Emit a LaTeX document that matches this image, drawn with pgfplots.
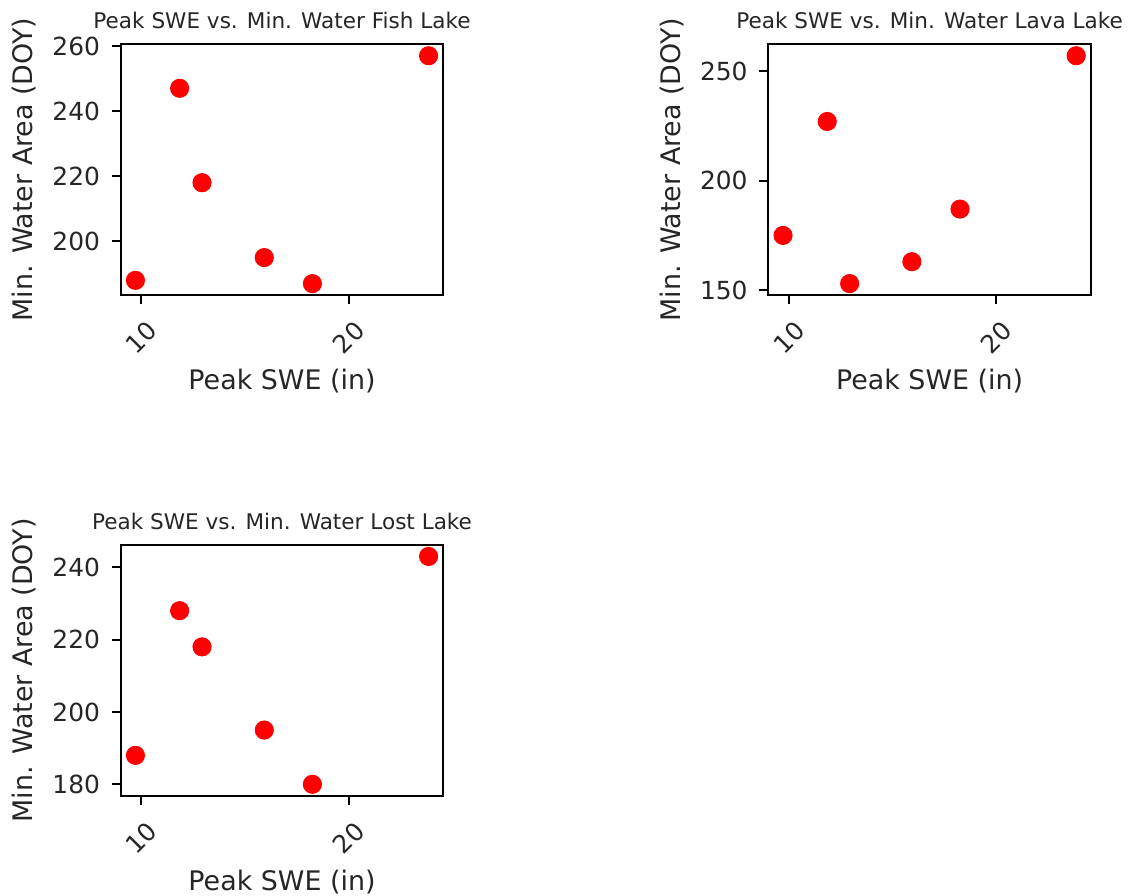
\documentclass[border=0pt]{standalone}
\usepackage{fontspec}
\setmainfont{DejaVu Sans}
\usepackage{pgfplots}
\pgfplotsset{compat=1.18}
\pgfplotsset{
  lake/.style={
    scale only axis, width=145.17pt, height=112.8pt, anchor=south west,
    xmin=9.01, xmax=24.56, xtick={10,20},
    axis line style={line width=0.8pt, black},
    tick align=outside, major tick length=4pt,
    tick style={line width=0.8pt, black},
    xtick pos=left, ytick pos=left,
    /pgf/number format/assume math mode=true,
    tick label style={font=\fontsize{11.2}{13}\selectfont, text=black!85},
    xticklabel style={yshift=-15.1pt, rotate=45, anchor=center},
    yticklabel style={xshift=-1.8pt},
    every axis y label/.style={at={(axis description cs:-0.2998,0.5)}, rotate=90, anchor=center, font=\fontsize{12.1}{14}\selectfont, text=black!85},
    every axis x label/.style={at={(axis description cs:0.5,-0.343)}, anchor=center, font=\fontsize{12.1}{14}\selectfont, text=black!85},
    title style={font=\fontsize{9.7}{11}\selectfont, text=black!85, at={(axis description cs:0.5,1.041)}, anchor=center},
    xlabel={Peak SWE (in)}, ylabel={Min. Water Area (DOY)},
  },
  dots/.style={only marks, mark=*, mark size=4.1pt, color=red, mark options={fill=red, draw=none}},
}
\begin{document}
\begin{tikzpicture}
\useasboundingbox (0pt,0pt) rectangle (508.5pt,402.75pt);
% Fish Lake
\begin{axis}[lake, at={(54.32pt,270pt)}, ymin=183.5, ymax=260.5, ytick={200,220,240,260},
  title={Peak SWE vs. Min. Water Fish Lake}]
\addplot[dots] coordinates {(9.72,188) (11.85,247) (12.93,218) (15.93,195) (18.25,187) (23.85,257)};
\end{axis}
% Lava Lake
\begin{axis}[lake, at={(345.74pt,270pt)}, ymin=147.8, ymax=262.2, ytick={150,200,250},
  title={Peak SWE vs. Min. Water Lava Lake}]
\addplot[dots] coordinates {(9.72,175) (11.85,227) (12.93,153) (15.93,163) (18.25,187) (23.85,257)};
\end{axis}
% Lost Lake
\begin{axis}[lake, at={(54.32pt,44.69pt)}, ymin=176.85, ymax=246.15, ytick={180,200,220,240},
  title={Peak SWE vs. Min. Water Lost Lake}]
\addplot[dots] coordinates {(9.72,188) (11.85,228) (12.93,218) (15.93,195) (18.25,180) (23.85,243)};
\end{axis}
\end{tikzpicture}
\end{document}
